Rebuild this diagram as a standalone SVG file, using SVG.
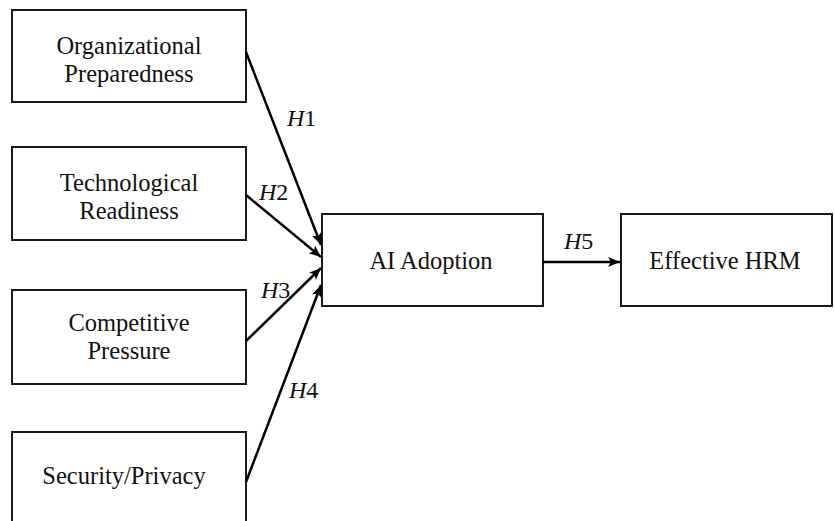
<svg xmlns="http://www.w3.org/2000/svg" width="834" height="521" viewBox="0 0 834 521">
  <style>
    .box { fill: #ffffff; stroke: #1a1a1a; stroke-width: 2; }
    .label { font-family: "Liberation Serif", "Times New Roman", serif; font-size: 24.5px; fill: #111111; text-anchor: middle; }
    .hyp { font-family: "Liberation Serif", "Times New Roman", serif; font-size: 24px; fill: #111111; }
    .hyp .h { font-style: italic; }
    .edge { fill: none; stroke: #000000; stroke-width: 2.5; marker-end: url(#arrow); }
  </style>
  <defs>
    <marker id="arrow" markerUnits="userSpaceOnUse" markerWidth="14" markerHeight="12" refX="12" refY="5" orient="auto">
      <path d="M0,0 L12,5 L0,10 L3,5 Z" fill="#000000"/>
    </marker>
  </defs>
  <rect width="834" height="521" fill="#ffffff"/>

  <g id="organizational-preparedness">
    <rect class="box" x="12" y="10" width="234" height="92"/>
    <text class="label" x="129" y="54">Organizational</text>
    <text class="label" x="129" y="82">Preparedness</text>
  </g>
  <g id="technological-readiness">
    <rect class="box" x="12" y="147" width="234" height="93"/>
    <text class="label" x="129" y="191">Technological</text>
    <text class="label" x="129" y="219">Readiness</text>
  </g>
  <g id="competitive-pressure">
    <rect class="box" x="12" y="290" width="234" height="94"/>
    <text class="label" x="129" y="331">Competitive</text>
    <text class="label" x="129" y="359">Pressure</text>
  </g>
  <g id="security-privacy">
    <rect class="box" x="12" y="432" width="234" height="100"/>
    <text class="label" x="124" y="484">Security/Privacy</text>
  </g>
  <g id="ai-adoption">
    <rect class="box" x="322" y="214" width="221" height="92"/>
    <text class="label" x="431" y="269">AI Adoption</text>
  </g>
  <g id="effective-hrm">
    <rect class="box" x="621" y="214" width="211" height="92"/>
    <text class="label" x="725" y="269">Effective HRM</text>
  </g>

  <g id="connectors">
    <line class="edge" x1="246" y1="52" x2="321" y2="245"/>
    <line class="edge" x1="246" y1="195" x2="321" y2="257"/>
    <line class="edge" x1="246" y1="341" x2="321" y2="268"/>
    <line class="edge" x1="246" y1="482" x2="321" y2="285"/>
    <line class="edge" x1="543" y1="262" x2="620" y2="262"/>
    <text class="hyp" x="287" y="126"><tspan class="h">H</tspan>1</text>
    <text class="hyp" x="259" y="200"><tspan class="h">H</tspan>2</text>
    <text class="hyp" x="261" y="298"><tspan class="h">H</tspan>3</text>
    <text class="hyp" x="289" y="398"><tspan class="h">H</tspan>4</text>
    <text class="hyp" x="564" y="249"><tspan class="h">H</tspan>5</text>
  </g>
</svg>
